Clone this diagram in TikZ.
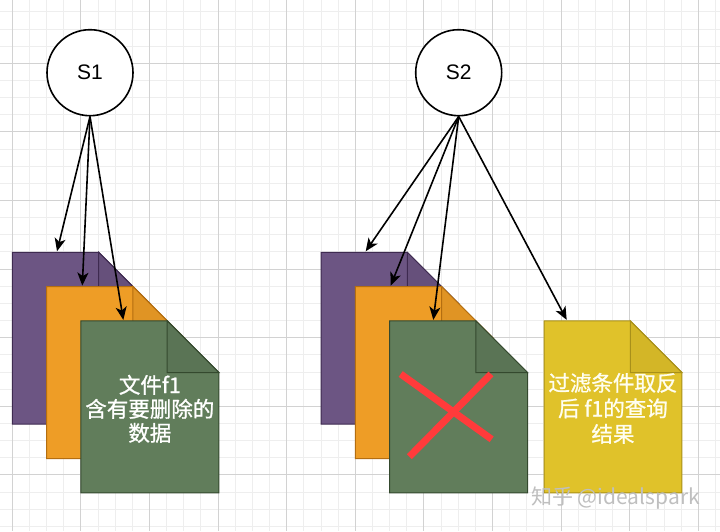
\documentclass[tikz,border=0pt]{standalone}
\usepackage{fontspec}
\setmainfont{Liberation Sans}
\newfontfamily\cjk{Noto Sans CJK SC}
\newfontfamily\cjkb[FakeBold=1]{Noto Sans CJK SC}
\usetikzlibrary{arrows.meta,calc}
\definecolor{purpF}{HTML}{6C5583}
\definecolor{purpS}{HTML}{3E2A50}
\definecolor{oranF}{HTML}{EE9D26}
\definecolor{oranS}{HTML}{B46E10}
\definecolor{greeF}{HTML}{617D5B}
\definecolor{greeS}{HTML}{34492E}
\definecolor{yellF}{HTML}{E0C22A}
\definecolor{yellS}{HTML}{A8901A}
\definecolor{xred}{HTML}{FF3B3B}
\definecolor{gridminor}{HTML}{EEEEEE}
\definecolor{gridmajor}{HTML}{D2D2D2}
\newcommand\docshape[4]{%
  \filldraw[fill=#2,draw=#3,line width=1pt,line join=miter]
    (#1.north west) -- ($(#1.north east)+(-51.6,0)$) -- ($(#1.north east)+(0,51.6)$)
    -- (#1.south east) -- (#1.south west) -- cycle;
  \filldraw[fill=#4,draw=#3,line width=1pt]
    ($(#1.north east)+(-51.6,0)$) -- ($(#1.north east)+(-51.6,51.6)$)
    -- ($(#1.north east)+(0,51.6)$) -- cycle;
}
\begin{document}
\begin{tikzpicture}[x=1pt,y=-1pt,
  circ/.style={circle,draw=black,line width=1.6pt,fill=white,minimum size=86pt,inner sep=0pt,font=\fontsize{21}{24}\selectfont},
  docbox/.style={minimum width=137.5pt,minimum height=171.5pt,inner sep=0pt,anchor=north west},
  arr/.style={line width=1.6pt,-{Stealth[length=13pt,width=11pt,inset=3.5pt]}},
  doctext/.style={text=white,align=center,font=\cjkb\fontsize{21.5}{24}\selectfont},
  xline/.style={draw=xred,line width=7pt},
  minorline/.style={draw=gridminor,line width=1pt},
  majorline/.style={draw=gridmajor,line width=1pt}]
\useasboundingbox (0,0) rectangle (720,531);
\fill[white] (0,0) rectangle (720,531);
% grid
\foreach \i in {-1,...,41} {
  \pgfmathsetmacro\xx{12.3+\i*17.15}
  \draw[minorline] (\xx,0) -- (\xx,531);
}
\foreach \j in {-4,...,28} {
  \pgfmathsetmacro\yy{63.3+\j*17.15}
  \draw[minorline] (0,\yy) -- (720,\yy);
}
\foreach \i in {0,...,10} {
  \pgfmathsetmacro\xx{12.3+\i*68.6}
  \draw[majorline] (\xx,0) -- (\xx,531);
}
\foreach \j in {-1,...,7} {
  \pgfmathsetmacro\yy{63.3+\j*68.6}
  \draw[majorline] (0,\yy) -- (720,\yy);
}
% circles
\node[circ] (s1) at (90,72.7) {S1};
\node[circ] (s2) at (458.7,72.7) {S2};
% document boxes
\node[docbox] (p1) at (12.3,252.3) {};
\node[docbox] (o1) at (46.6,286.6) {};
\node[docbox] (g1) at (80.9,320.9) {};
\node[docbox] (p2) at (321,252.3) {};
\node[docbox] (o2) at (355.3,286.6) {};
\node[docbox] (g2) at (389.6,320.9) {};
\node[docbox] (y2) at (544,320.9) {};
\docshape{p1}{purpF}{purpS}{purpF!94!black}
\docshape{o1}{oranF}{oranS}{oranF!94!black}
\docshape{g1}{greeF}{greeS}{greeF!93!black}
\docshape{p2}{purpF}{purpS}{purpF!94!black}
\docshape{o2}{oranF}{oranS}{oranF!94!black}
\docshape{g2}{greeF}{greeS}{greeF!93!black}
\docshape{y2}{yellF}{yellS}{yellF!94!black}
% texts
\node[doctext] (t1) at ($(g1.center)+(0,2)$) {文件f1\\含有要删除的\\数据};
\node[doctext,font=\cjkb\fontsize{21.5}{25.5}\selectfont,text=white!94!yellow] (t2) at ($(y2.center)+(0,1.5)$) {过滤条件取反\\后 f1的查询\\结果};
% red cross
\draw[xline] ($(g2.north west)+(11.1,53.1)$) coordinate (xa) -- ($(g2.north west)+(102.1,118.4)$) coordinate (xb);
\draw[xline] ($(g2.north west)+(101.4,53.1)$) coordinate (xc) -- ($(g2.north west)+(19.7,135.8)$) coordinate (xd);
% arrows
\draw[arr] (s1.south) -- ($(p1.north west)+(44.7,-1)$);
\draw[arr] (s1.south) -- ($(o1.north west)+(35.7,-1)$);
\draw[arr] (s1.south) -- ($(g1.north west)+(42.4,-1)$);
\draw[arr] (s2.south) -- ($(p2.north west)+(44.7,-1)$);
\draw[arr] (s2.south) -- ($(o2.north west)+(35.4,-1)$);
\draw[arr] (s2.south) -- ($(g2.north west)+(43.7,-1)$);
\draw[arr] (s2.south) -- ($(y2.north west)+(22.7,-1)$);
% watermark
\node[font=\cjk\fontsize{21}{21}\selectfont,text=gray!50] (wm) at (615.5,498) {知乎 @idealspark};
\end{tikzpicture}
\end{document}
